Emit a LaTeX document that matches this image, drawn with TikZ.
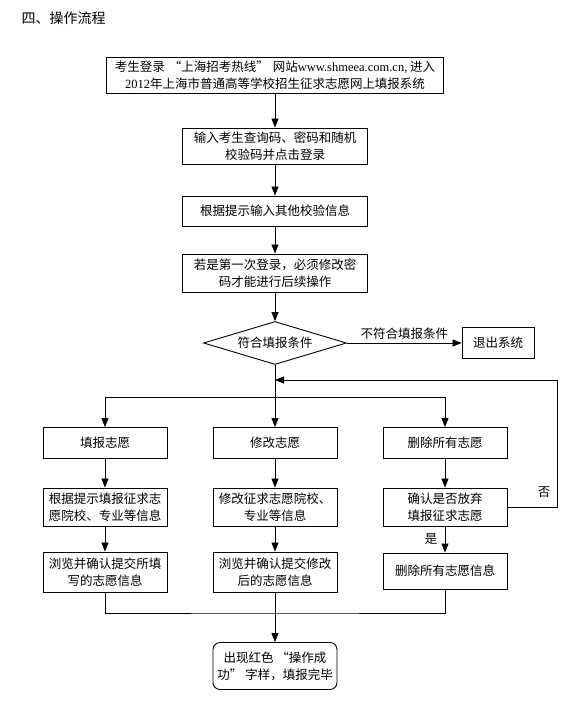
\documentclass[tikz,border=0pt]{standalone}
\usepackage{fontspec}
\setmainfont{Liberation Serif}
\newfontfamily\cjk{Noto Sans CJK SC}
\usetikzlibrary{arrows.meta,shapes.geometric}
\tikzset{>={Triangle[length=9pt,width=7pt]}}
\tikzset{
  box/.style={draw, line width=0.9pt, minimum width=124pt, inner sep=2pt, align=center,
    font=\fontsize{12.5}{17}\selectfont\cjk},
  link/.style={line width=0.8pt},
  tag/.style={font=\fontsize{12.5}{17}\selectfont\cjk}
}

\begin{document}
\begin{tikzpicture}[x=1pt,y=-1pt]
    \useasboundingbox (0,0) rectangle (576,702);
    \node [anchor=west, font=\fontsize{14}{16}\selectfont\cjk](title) at (18,18){四、操作流程};
    \node [box, minimum width=337pt, minimum height=36pt](login) at (275,75)
      {考生登录\hspace{4pt}“上海招考热线”\hspace{4pt}网站{\rmfamily www.shmeea.com.cn,} 进入\\{\rmfamily 2012}年上海市普通高等学校招生征求志愿网上填报系统};
    \node [box, minimum width=185pt, minimum height=36pt](input) at (275,146){输入考生查询码、密码和随机\\校验码并点击登录};
    \node [box, minimum width=185pt, minimum height=30pt](verify) at (275,211){根据提示输入其他校验信息};
    \node [box, minimum width=185pt, minimum height=38pt](first) at (275,273){若是第一次登录，必须修改密\\码才能进行后续操作};
    \node [box, diamond, aspect=3.3, inner sep=0pt, minimum width=143pt, minimum height=43pt](cond) at (275,343){符合填报条件};
    \node [box, minimum width=72pt, minimum height=31pt](quit) at (498,343){退出系统};
    \node [box, minimum height=31pt](fill) at (105,443){填报志愿};
    \node [box, minimum height=31pt](modify) at (275,443){修改志愿};
    \node [box, minimum height=31pt](delete) at (445,443){删除所有志愿};
    \node [box, minimum height=38pt](fill2) at (105,507){根据提示填报征求志\\愿院校、专业等信息};
    \node [box, minimum height=38pt](modify2) at (275,507){修改征求志愿院校、\\专业等信息};
    \node [box, minimum height=38pt](confirm) at (445,507){确认是否放弃\\填报征求志愿};
    \node [box, minimum height=40pt](fill3) at (105,572){浏览并确认提交所填\\写的志愿信息};
    \node [box, minimum height=40pt](modify3) at (275,572){浏览并确认提交修改\\后的志愿信息};
    \node [box, minimum height=36pt](clear) at (445,571){删除所有志愿信息};
    \node [box, rounded corners=7pt, minimum height=47pt](done) at (275,666){出现红色\hspace{3pt}“操作成\\功”\hspace{3pt}字样，填报完毕};
    \coordinate (split) at (275,397);
    \coordinate (back) at (557,380);
    \coordinate (merge) at (275,613);
    \draw [link,->] (login) -- (input);
    \draw [link,->] (input) -- (verify);
    \draw [link,->] (verify) -- (first);
    \draw [link,->] (first) -- (cond);
    \draw [link,->] (cond) -- node[tag, above]{不符合填报条件} (quit);
    \draw [link] (cond.south) -- (split);
    \draw [link] (fill.north |- split) -- (delete.north |- split);
    \foreach \n in {fill,modify,delete}
      \draw [link,->] (\n.north |- split) -- (\n.north);
    \draw [link,->] (fill) -- (fill2);
    \draw [link,->] (fill2) -- (fill3);
    \draw [link,->] (modify) -- (modify2);
    \draw [link,->] (modify2) -- (modify3);
    \draw [link,->] (delete) -- (confirm);
    \draw [link,->] (confirm) -- node[tag, left, xshift=-4pt]{是} (clear);
    \draw [link,->] (confirm.east) -| node[tag, anchor=south east, xshift=-3pt, yshift=6pt]{否} (back) -- (cond.south |- back);
    \draw [link] (fill3.south) |- (merge) -| (clear.south);
    \draw [link,->] (modify3) -- (done);
\end{tikzpicture}
\end{document}
